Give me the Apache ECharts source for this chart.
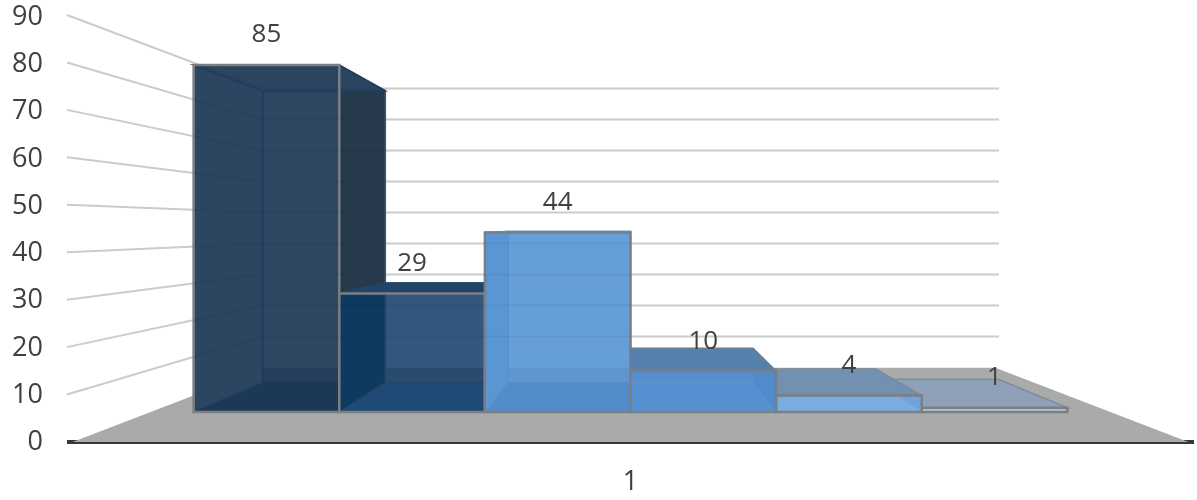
<!DOCTYPE html>
<html>
<head>
<meta charset="utf-8">
<style>html,body{margin:0;padding:0;background:#fff}#c{width:1197px;height:500px}</style>
<script src="https://cdn.jsdelivr.net/npm/echarts@6/dist/echarts.min.js"></script>
</head>
<body>
<div id="c"></div>
<script>
// Data
const categories = ['1'];
const barValues = [85, 29, 44, 10, 4, 1];
const wallTicks = [10, 20, 30, 40, 50, 60, 70, 80, 90];

// Scene settings (perspective of the 3D plot)
const EYE_VALUE = 45.3;     // axis value at which the vanishing point sits
const BAR_PLANE = 0.86;     // scale of the bars' front plane
const BAR_DEPTH = 0.842;    // back of a bar relative to its front
const WALL_PLANE = 0.654;   // scale of the back wall
const BAR_BAND = 0.1292;    // width of one bar as share of the band

// Face colours, one per bar
const faces = [
  {back:'#2d4763', left:'#2c4560', bottom:'#1b3957', top:'#2b4561', right:'#263a4c', edge:'#1f3d5c', rightEdge:'#465662', band:0.16},
  {back:'#32567c', left:'#0e3a60', bottom:'#1f4a76', top:'#1f4468', right:'#2a4a6c', edge:'#26456a', rightEdge:null, band:0.16},
  {back:'#659ed8', left:'#5a96d4', bottom:'#528ccb', top:'#5f98d2', right:'#5a96d4', edge:'#5a92cc', rightEdge:null, band:0.05},
  {back:'#5590d0', left:'#5590d0', bottom:'#5590d0', top:'#5680ad', right:'#4f8bcd', edge:null, rightEdge:null, band:0},
  {back:'#7bace0', left:'#7bace0', bottom:'#7bace0', top:'#7290b0', right:'#6ea3dc', edge:null, rightEdge:null, band:0},
  {back:'#aec5e0', left:'#aec5e0', bottom:'#b0c6e0', top:'#8ea1b8', right:'#a8c0dc', edge:null, rightEdge:null, band:0}
];
const topEdges = ['#1f3d5c', '#26456a', '#5a92cc', '#6b7f92', '#7c8a98', '#7f8c98'];
const paintRank = [0, 2, 4, 5, 3, 1];

function poly(points, fill, z2, stroke, lw) {
  return {type:'polygon', z2:z2, shape:{points:points},
    style:{fill:fill, stroke:stroke || null, lineWidth:stroke ? (lw || 1.5) : 0, lineJoin:'miter'}};
}

const chart = echarts.init(document.getElementById('c'), null, {renderer:'canvas'});

chart.setOption({
  animation:false,
  backgroundColor:'#fff',
  textStyle:{fontFamily:'"Open Sans"'},
  grid:[
    {left:67, right:3, top:15, bottom:58},
    {left:67, right:3, top:17, bottom:57.5}
  ],
  xAxis:[{
    type:'category', data:categories, boundaryGap:true, gridIndex:0,
    axisTick:{show:false},
    axisLine:{show:true, lineStyle:{color:'#33383b', width:4, cap:'butt'}},
    axisLabel:{color:'#404040', fontSize:27, fontFamily:'"Open Sans"', margin:27},
    splitLine:{show:false}
  },{
    type:'category', data:categories, gridIndex:1, show:false
  }],
  yAxis:[{
    type:'value', min:0, max:90, interval:10, gridIndex:0,
    axisTick:{show:false}, axisLine:{show:false}, splitLine:{show:false},
    axisLabel:{show:false}
  },{
    type:'value', min:0, max:90, interval:10, gridIndex:1,
    axisTick:{show:false}, axisLine:{show:false}, splitLine:{show:false},
    axisLabel:{color:'#404040', fontSize:27, fontFamily:'"Open Sans"', margin:24}
  }],
  series:[
    { // floor
      type:'custom', z:1, silent:true, clip:false, data:[[0,0]], encode:{x:0,y:1},
      renderItem(p, api){
        const c = api.coord([0,0]), v = api.coord([0,EYE_VALUE]), w = api.size([1,0])[0];
        const at = (s,k)=>[c[0]+s*w/2*k, v[1]+(c[1]-v[1])*k];
        return poly([at(-0.99,1),at(0.99,1),at(0.99,WALL_PLANE),at(-0.99,WALL_PLANE)],'#a9abab',0);
      }
    },
    { // wall gridlines
      type:'custom', z:2, silent:true, clip:false, data:wallTicks.map(t=>[0,t]), encode:{x:0,y:1},
      renderItem(p, api){
        const c = api.coord([0,api.value(1)]), v = api.coord([0,EYE_VALUE]), w = api.size([1,0])[0];
        const at = (s,k)=>[c[0]+s*w/2*k, v[1]+(c[1]-v[1])*k];
        return {type:'polyline', shape:{points:[at(-1,1),at(-1,WALL_PLANE),at(1,WALL_PLANE)]},
          style:{fill:null, stroke:'#d6d6d6', lineWidth:2}};
      }
    },
    { // bars
      type:'custom', z:3, silent:true, clip:false, data:barValues.map(b=>[0,b]), encode:{x:0,y:1},
      renderItem(p, api){
        const i = p.dataIndex, f = faces[i];
        const top = api.coord([0,api.value(1)]), base = api.coord([0,0]), v = api.coord([0,EYE_VALUE]);
        const bw = api.size([1,0])[0]*BAR_BAND;
        const cx = base[0];
        const X = (n,d)=>cx+(i-3+n)*bw*d;
        const Y = (py,d)=>v[1]+(py-v[1])*BAR_PLANE*d;
        const pt = (n,py,d)=>[X(n,d),Y(py,d)];
        const z = paintRank[i]*20;
        const floorY = v[1]+(base[1]-v[1])*WALL_PLANE;
        const backBottom = Y(base[1],BAR_DEPTH);
        const bandTop = Math.max(floorY,Y(top[1],BAR_DEPTH));
        const kids = [
          poly([pt(0,top[1],BAR_DEPTH),pt(1,top[1],BAR_DEPTH),pt(1,base[1],BAR_DEPTH),pt(0,base[1],BAR_DEPTH)],f.back,z+1,f.edge),
          poly([[X(0,BAR_DEPTH),bandTop],[X(1,BAR_DEPTH),bandTop],[X(1,BAR_DEPTH),backBottom],[X(0,BAR_DEPTH),backBottom]],'rgba(0,20,50,'+f.band+')',z+2),
          poly([pt(0,base[1],1),pt(1,base[1],1),pt(1,base[1],BAR_DEPTH),pt(0,base[1],BAR_DEPTH)],f.bottom,z+3),
          poly([pt(0,top[1],1),pt(0,top[1],BAR_DEPTH),pt(0,base[1],BAR_DEPTH),pt(0,base[1],1)],f.left,z+4,f.edge),
          poly([pt(1,top[1],1),pt(1,top[1],BAR_DEPTH),pt(1,base[1],BAR_DEPTH),pt(1,base[1],1)],f.right,z+5,f.rightEdge),
          poly([pt(0,top[1],1),pt(1,top[1],1),pt(1,top[1],BAR_DEPTH),pt(0,top[1],BAR_DEPTH)],f.top,z+6,topEdges[i]),
          {type:'rect', z2:z+7, shape:{x:X(0,1),y:Y(top[1],1),width:bw,height:Y(base[1],1)-Y(top[1],1)},
            style:{fill:null, stroke:'#7c7f82', lineWidth:2.5}}
        ];
        return {type:'group', children:kids};
      }
    },
    { // faint gridlines showing through the translucent bars
      type:'custom', z:4, silent:true, clip:false, data:wallTicks.map(t=>[0,t]), encode:{x:0,y:1},
      renderItem(p, api){
        const c = api.coord([0,api.value(1)]), v = api.coord([0,EYE_VALUE]), w = api.size([1,0])[0];
        const at = (s,k)=>[c[0]+s*w/2*k, v[1]+(c[1]-v[1])*k];
        return {type:'polyline', shape:{points:[at(-1,1),at(-1,WALL_PLANE),at(1,WALL_PLANE)]},
          style:{fill:null, stroke:'rgba(0,10,30,0.05)', lineWidth:2}};
      }
    },
    { // value labels
      type:'custom', z:5, silent:true, clip:false, data:barValues.map(b=>[0,b]), encode:{x:0,y:1},
      renderItem(p, api){
        const i = p.dataIndex, val = api.value(1);
        const top = api.coord([0,val]), v = api.coord([0,EYE_VALUE]);
        const bw = api.size([1,0])[0]*BAR_BAND;
        const x = top[0]+(i-2.5)*bw, y = v[1]+(top[1]-v[1])*BAR_PLANE-30;
        return {type:'text', style:{x:x, y:y, text:String(val), fill:'#404040',
          font:'26px "Open Sans"', textAlign:'center', textVerticalAlign:'middle'}};
      }
    }
  ]
});
</script>
</body>
</html>
